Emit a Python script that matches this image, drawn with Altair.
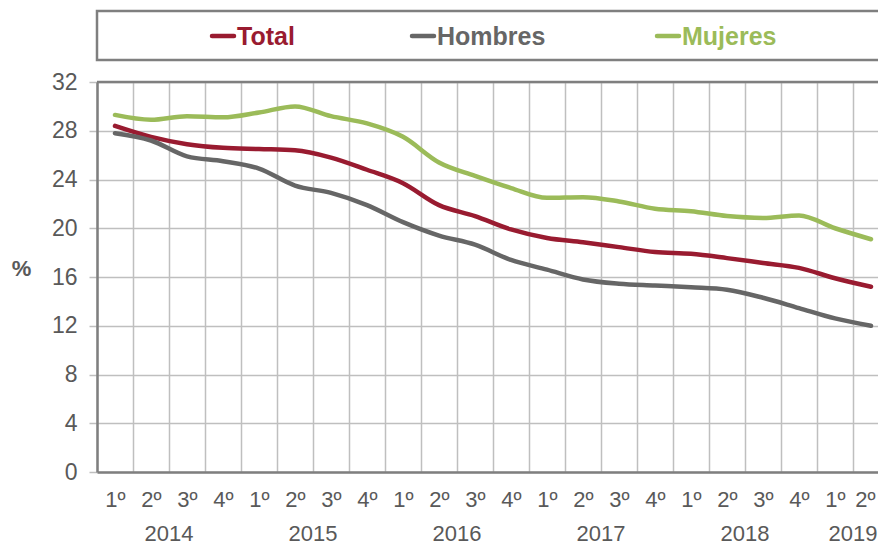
import altair as alt
import pandas as pd

# ---- data ----
year_names = ["2014", "2015", "2016", "2017", "2018", "2019"]
quarter_counts = [4, 4, 4, 4, 4, 2]
series = ["Total", "Hombres", "Mujeres"]
colors = ["#991b30", "#666666", "#9bbb59"]

total = [28.4, 27.5, 26.9, 26.6, 26.5, 26.4, 25.8, 24.8, 23.7, 21.9, 21.0,
         19.9, 19.2, 18.85, 18.45, 18.05, 17.9, 17.55, 17.15, 16.75, 15.9, 15.2]
hombres = [27.8, 27.2, 25.9, 25.5, 24.9, 23.5, 22.9, 21.9, 20.5, 19.4, 18.65,
           17.4, 16.6, 15.8, 15.45, 15.3, 15.15, 14.95, 14.3, 13.45, 12.6, 12.0]
mujeres = [29.3, 28.9, 29.2, 29.1, 29.5, 30.0, 29.2, 28.6, 27.5, 25.4, 24.3,
           23.3, 22.5, 22.55, 22.2, 21.6, 21.4, 21.0, 20.85, 21.05, 20.0, 19.1]
y_ticks = [0, 4, 8, 12, 16, 20, 24, 28, 32]

# ---- tables ----
keys = [f"{y}-{q}" for y, n in zip(year_names, quarter_counts) for q in range(1, n + 1)]
rows = []
for name, vals in zip(series, [total, hombres, mujeres]):
    for k, v in zip(keys, vals):
        rows.append({"key": k, "serie": name, "valor": v})
df = pd.DataFrame(rows)

# year label anchored at the middle boundary of its quarters
year_keys = [f"{y}-{n // 2 + 1}" for y, n in zip(year_names, quarter_counts)]
years_df = pd.DataFrame({"key": year_keys, "year": year_names})

FONT = "Liberation Sans, Arial, sans-serif"
TXT = "#595959"
AXC = "#7f7f7f"
GRID = "#bfbfbf"

VIEW_W = 781      # visible plot width (page is cut at the right edge)
RANGE_W = 792     # full band range, extends past the page edge like the original

x_scale = alt.Scale(type="band", domain=keys, paddingInner=0, paddingOuter=0,
                    range=[0, RANGE_W])
last_key = keys[-1]
x_axis = alt.Axis(
    title=None, tickBand="extent", grid=True, ticks=False, labelAngle=0,
    labelExpr="isString(datum.value) && indexof(datum.value, '-') > 0 ? split(datum.value, '-')[1] + 'º' : ''",
    labelFont=FONT, labelFontSize=22, labelColor=TXT, labelPadding=17,
    labelOverlap=False,
    labelOffset={"condition": {"test": f"datum.value == '{last_key}'", "value": -6}, "value": 0},
    domainColor=AXC, domainWidth=2.5,
    gridColor=GRID, gridWidth=1.5,
)
y_axis = alt.Axis(
    values=y_ticks, title="%", titleAngle=0, titleX=-76, titleY=186,
    titleAlign="center", titleBaseline="middle", titleFont=FONT,
    titleFontSize=22, titleFontWeight="bold", titleColor=TXT,
    labelFont=FONT, labelFontSize=23, labelColor=TXT, labelPadding=12,
    tickSize=8, tickColor=GRID, tickWidth=1.5,
    domainColor=AXC, domainWidth=2.5,
    gridColor=GRID, gridWidth=1.5,
)

lines = alt.Chart(df).mark_line(
    interpolate="monotone", strokeWidth=4.5, strokeCap="round"
).encode(
    x=alt.X("key:O", scale=x_scale, axis=x_axis, sort=keys),
    y=alt.Y("valor:Q", scale=alt.Scale(domain=[0, 32], nice=False), axis=y_axis),
    color=alt.Color("serie:N", scale=alt.Scale(domain=series, range=colors), legend=None),
    detail="serie:N",
)

year_labels = alt.Chart(years_df).mark_text(
    font=FONT, fontSize=22, color=TXT, align="center", baseline="alphabetic"
).encode(
    x=alt.X("key:O", scale=x_scale, axis=x_axis, bandPosition=0),
    y=alt.value(459),
    text="year:N",
)

one = pd.DataFrame({"a": [0]})
top_border = alt.Chart(one).mark_rule(color=AXC, strokeWidth=2.5).encode(
    x=alt.value(0), x2=alt.value(RANGE_W), y=alt.value(0)
)

# ---- custom legend box ----
legend_box = alt.Chart(one).mark_rect(
    fill="white", fillOpacity=0, stroke=AXC, strokeWidth=2.5
).encode(x=alt.value(0), x2=alt.value(810), y=alt.value(-71), y2=alt.value(-22))

legend_layers = [legend_box]
legend_starts = [113, 313, 558]
for name, col, x0 in zip(series, colors, legend_starts):
    d = pd.DataFrame({"serie": [name]})
    legend_layers.append(
        alt.Chart(d).mark_rule(strokeWidth=4.5, strokeCap="round", color=col).encode(
            x=alt.value(x0 + 2), x2=alt.value(x0 + 24), y=alt.value(-46)
        )
    )
    legend_layers.append(
        alt.Chart(d).mark_text(
            font=FONT, fontSize=25, fontWeight="bold", color=col,
            align="left", baseline="alphabetic"
        ).encode(x=alt.value(x0 + 27), y=alt.value(-37), text="serie:N")
    )

chart = alt.layer(lines, top_border, year_labels, *legend_layers).properties(
    width=VIEW_W, height=390,
    padding={"left": 89, "top": 74, "right": 0, "bottom": 75},
    autosize=alt.AutoSizeParams(type="none"),
).configure_view(stroke=None)

chart.save("out.html", embed_options={"renderer": "svg", "actions": False})
